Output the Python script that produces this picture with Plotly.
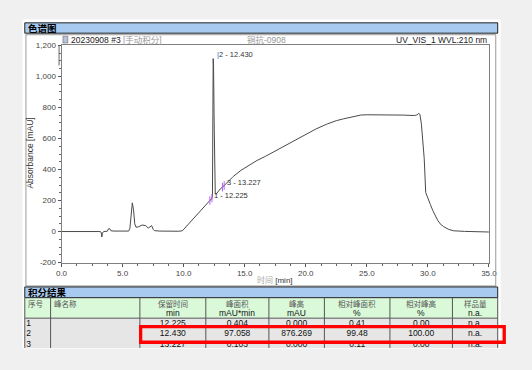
import plotly.graph_objects as go

W, H = 532, 370

# ---------------- data ----------------
time_min = [0.0, 3.15, 3.25, 3.30, 3.35, 3.45, 3.75, 3.85, 3.95, 4.05, 4.3, 5.5,
            5.6, 5.72, 5.8, 5.9, 6.0, 6.1, 6.3, 6.6, 6.9, 7.1, 7.25, 7.38, 7.5,
            7.6, 8.0, 9.0, 9.6, 9.9, 10.2, 10.6, 11.0, 11.4, 11.8, 12.1, 12.3,
            12.36, 12.39, 12.42, 12.45, 12.50, 12.55, 12.59, 12.65, 12.8, 13.0,
            13.26, 13.6, 14.06, 14.7, 15.4, 16.0, 16.7, 17.4, 18.0, 18.6, 19.3,
            20.0, 20.8, 21.7, 22.5, 23.1, 23.8, 24.5, 25.0, 26.0, 27.0, 28.0,
            28.9, 29.1, 29.25, 29.35, 29.47, 29.6, 29.7, 29.82, 30.0, 30.2, 30.4,
            30.6, 30.8, 31.0, 31.3, 31.7, 32.1, 33.0, 35.0]
absorbance = [0, 0, -5, -35, -10, 0, 2, 18, 18, 5, 3, 3,
              20, 150, 185, 140, 50, 28, 30, 42, 38, 22, 28, 38, 15,
              6, 3, 1, 2, 5, 30, 68, 102, 136, 170, 196, 212,
              225, 500, 1115, 1065, 700, 320, 245, 240, 255, 275,
              292, 320, 355, 395, 430, 458, 485, 515, 542, 568, 597,
              625, 660, 692, 715, 727, 740, 751, 753, 753, 752, 751,
              748, 752, 762, 755, 692, 560, 470, 252, 210, 175, 136,
              100, 73, 50, 31, 14, 5, 1, -3]

peak_no = ["1", "2", "3"]
peak_time = [12.225, 12.430, 13.227]
peak_label_abs = [205, 1115, 290]
boundary_time = [12.15, 12.32, 13.18, 13.32]
boundary_abs = [200, 216, 286, 297]

x_tickvals = [0, 5, 10, 15, 20, 25, 30, 35]
x_ticktext = ["0.0", "5.0", "10.0", "15.0", "20.0", "25.0", "30.0", "35.0"]
y_tickvals = [-200, 0, 200, 400, 600, 800, 1000, 1200]
y_ticktext = ["-200", "0", "200", "400", "600", "800", "1,000", "1,200"]

table_headers = ["序号", "峰名称", "保留时间", "峰面积", "峰高", "相对峰面积", "相对峰高", "样品量"]
table_units = ["", "", "min", "mAU*min", "mAU", "%", "%", "n.a."]
col_no = ["1", "2", "3"]
col_name = ["", "", ""]
col_rt = ["12.225", "12.430", "13.227"]
col_area = ["0.404", "97.058", "0.103"]
col_height = ["0.000", "876.269", "0.000"]
col_rel_area = ["0.41", "99.48", "0.11"]
col_rel_height = ["0.00", "100.00", "0.00"]
col_amount = ["n.a.", "n.a.", "n.a."]
table_columns = [col_no, col_name, col_rt, col_area, col_height,
                 col_rel_area, col_rel_height, col_amount]
highlight_row = 1

# ---------------- layout helpers ----------------
def PX(px):
    return px / W


def PY(py):
    return 1 - py / H


FONT = "Liberation Sans, Arial, sans-serif"
CJK = "Noto Sans CJK SC, sans-serif"

col_edges = [19.3, 45.8, 137.5, 205.2, 270, 327, 394.3, 458.5, 505]
row_y = [327.7, 338.3, 348.9]

fig = go.Figure()

# chromatogram
fig.add_trace(go.Scatter(x=time_min, y=absorbance, mode="lines",
                         line=dict(color="#4a4a4a", width=1), hoverinfo="skip",
                         showlegend=False))
# integration baselines (red) and delimiters (blue)
for i in range(0, len(boundary_time), 2):
    fig.add_trace(go.Scatter(x=boundary_time[i:i + 2], y=boundary_abs[i:i + 2],
                             mode="lines", line=dict(color="#e03030", width=0.8),
                             hoverinfo="skip", showlegend=False))
fig.add_trace(go.Scatter(x=boundary_time, y=boundary_abs, mode="markers",
                         marker=dict(symbol="line-ns-open", size=6,
                                     line=dict(color="#4060ff", width=1)),
                         hoverinfo="skip", showlegend=False))

# table rows as clipped text in a pixel-space subplot
for ci, col in enumerate(table_columns):
    if ci < 2:
        xs = [col_edges[ci] + 1.5] * len(col)
        tp = "middle right"
    else:
        xs = [(col_edges[ci] + col_edges[ci + 1]) / 2] * len(col)
        tp = "middle center"
    fig.add_trace(go.Scatter(x=xs, y=row_y, mode="text", text=col,
                             textposition=tp, cliponaxis=True,
                             textfont=dict(family=FONT, size=8.5, color="#111"),
                             xaxis="x2", yaxis="y2", hoverinfo="skip",
                             showlegend=False))

shapes = []


def rect(x0, y0, x1, y1, fill=None, line=None, width=1, layer="above"):
    shapes.append(dict(type="rect", xref="paper", yref="paper",
                       x0=PX(x0), x1=PX(x1), y0=PY(y1), y1=PY(y0),
                       fillcolor=fill if fill else "rgba(0,0,0,0)",
                       line=dict(color=line if line else "rgba(0,0,0,0)", width=width if line else 0),
                       layer=layer))


def seg(x0, y0, x1, y1, color="#444", width=1, layer="above"):
    shapes.append(dict(type="line", xref="paper", yref="paper",
                       x0=PX(x0), x1=PX(x1), y0=PY(y0), y1=PY(y1),
                       line=dict(color=color, width=width), layer=layer))


# white panel
rect(17, 16, 508, 353, fill="white", layer="below")
# chart title bar
rect(19.3, 19.3, 505, 29.9, fill="#a8caf0", line="#222", width=1)
# chart frame
rect(20.5, 31.5, 503, 289, line="#9a9a9a", width=1)
# y axis bracket
seg(54.5, 43, 54.5, 63, color="#666", width=1)
# icon
rect(58.5, 33, 63.5, 40, fill="#b8c4d8", line="#667", width=0.6)

# table title bar
rect(19.3, 290, 505, 301, fill="#a8caf0", line="#222", width=1)
# header & body fills
rect(19.3, 301, 505, 322, fill="#d9f9d9", layer="below")
rect(19.3, 322, 505, 352.5, fill="#e6e6e6", layer="below")
for xe in col_edges:
    seg(xe, 301, xe, 352.5, color="#555", width=1)
seg(19.3, 322, 505, 322, color="#555", width=1)
# highlight box
hy0 = row_y[highlight_row] - 7.6
hy1 = row_y[highlight_row] + 8.4
rect(col_edges[2] + 0.8, hy0, 511.7, hy1, line="#ff0000", width=3.3)

annotations = []


def text(px, py, s, size=8, color="#222", xanchor="left", family=FONT, bold=False, **kw):
    if bold:
        s = "<b>" + s + "</b>"
    annotations.append(dict(xref="paper", yref="paper", x=PX(px), y=PY(py), text=s,
                            showarrow=False, xanchor=xanchor, yanchor="middle",
                            font=dict(family=family, size=size, color=color), **kw))


text(20.5, 24.6, "色谱图", size=9.5, color="#000", family=CJK, bold=True)
text(20.5, 295.5, "积分结果", size=9.5, color="#000", family=CJK, bold=True)
text(64.5, 36.6, "20230908 #3 <span style='color:#999'>[手动积分]</span>", size=8.5, color="#222",
     family="Liberation Sans, Noto Sans CJK SC, sans-serif")
text(268, 36.6, "铜抗-0908", size=8.5, color="#999", xanchor="center",
     family="Liberation Sans, Noto Sans CJK SC, sans-serif")
text(496.5, 36.6, "UV_VIS_1 WVL:210 nm", size=8.5, color="#222", xanchor="right")
text(276, 283.3, "<span style='color:#aaa'>时间</span> [min]", size=8, color="#333", xanchor="center",
     family="Liberation Sans, Noto Sans CJK SC, sans-serif")
text(25, 153, "Absorbance [mAU]", size=8.5, color="#333", xanchor="center", textangle=-90)

# table header
for ci, (hd, un) in enumerate(zip(table_headers, table_units)):
    if ci < 2:
        text(col_edges[ci] + 1.5, 306.8, hd, size=7.5, color="#555", family=CJK)
    else:
        cx = (col_edges[ci] + col_edges[ci + 1]) / 2
        text(cx, 306.8, hd, size=7.5, color="#555", family=CJK, xanchor="center")
        text(cx, 316.8, un, size=8.5, color="#111", xanchor="center")

# peak labels
for n, t, a in zip(peak_no, peak_time, peak_label_abs):
    lab = f"{n} - {t:.3f}"
    if n == "2":
        lab = "<span style='color:#3050ff'>|</span>" + lab
    annotations.append(dict(xref="x", yref="y", x=t, y=a, text=lab, showarrow=False,
                            xanchor="left", yanchor="middle", xshift=1.5, yshift=4.5,
                            font=dict(family=FONT, size=7.5, color="#333")))

axis_font = dict(family=FONT, size=8, color="#444")
fig.update_layout(
    width=W, height=H, margin=dict(l=0, r=0, t=0, b=0),
    paper_bgcolor="#f0f0f0", plot_bgcolor="white",
    shapes=shapes, annotations=annotations, showlegend=False,
    xaxis=dict(domain=[PX(57), PX(496)], range=[0, 35], anchor="y",
               tickmode="array", tickvals=x_tickvals, ticktext=x_ticktext,
               ticks="outside", ticklen=3, tickcolor="#555", tickfont=axis_font,
               minor=dict(dtick=1.25, tick0=0, ticks="outside", ticklen=2, tickcolor="#666"),
               showgrid=False, zeroline=False, showline=True, linecolor="#808080",
               linewidth=1, mirror=True, fixedrange=True),
    yaxis=dict(domain=[PY(265), PY(42.5)], range=[-200, 1200], anchor="x",
               tickmode="array", tickvals=y_tickvals, ticktext=y_ticktext,
               ticks="outside", ticklen=3, tickcolor="#555", tickfont=axis_font,
               minor=dict(dtick=50, tick0=0, ticks="outside", ticklen=2, tickcolor="#666"),
               showgrid=False, zeroline=False, showline=True, linecolor="#808080",
               linewidth=1, mirror=True, fixedrange=True),
    xaxis2=dict(domain=[PX(19.3), PX(505)], range=[19.3, 505], anchor="y2",
                visible=False, fixedrange=True),
    yaxis2=dict(domain=[PY(352.5), PY(322)], range=[352.5, 322], anchor="x2",
                visible=False, fixedrange=True),
)

fig.write_html("out.html", config={"displayModeBar": False},
               post_script="document.body.style.margin='0';document.body.style.background='#f0f0f0';")
